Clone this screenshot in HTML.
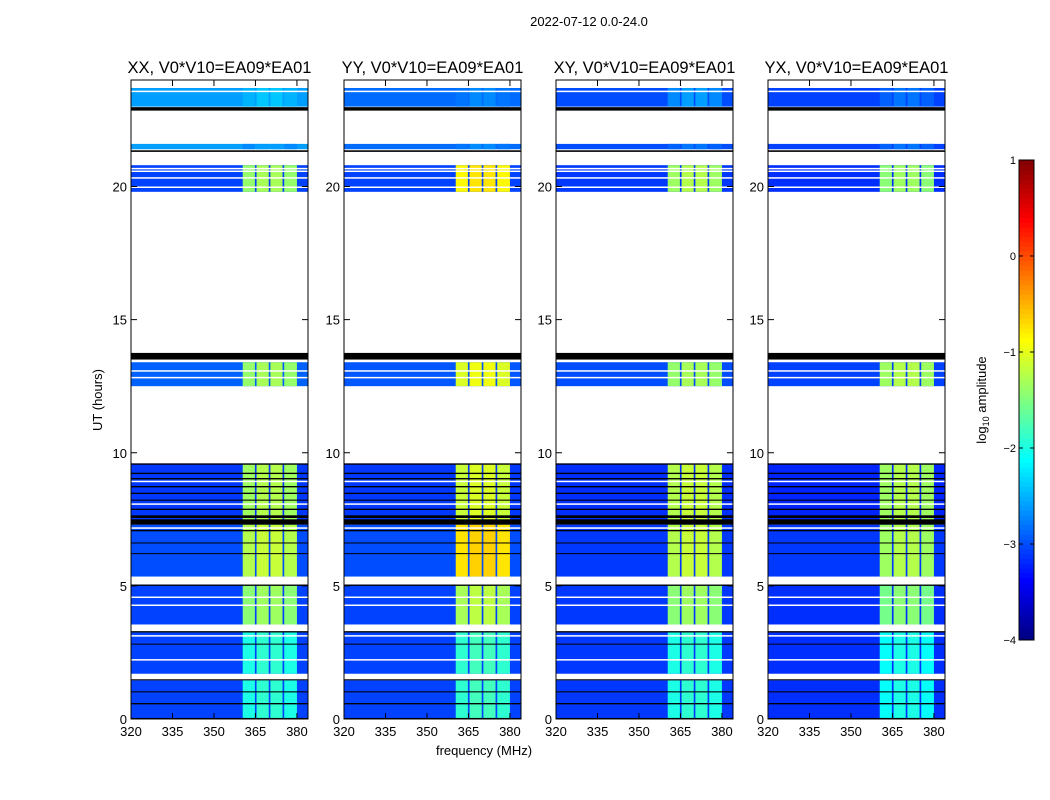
<!DOCTYPE html>
<html><head><meta charset="utf-8"><style>
body{margin:0;background:#fff}
svg{display:block;font-family:"Liberation Sans",sans-serif}
</style></head><body>
<svg id="fig" width="1050" height="800" xmlns="http://www.w3.org/2000/svg">
<text x="589" y="26" font-size="13" text-anchor="middle">2022-07-12 0.0-24.0</text>
<text x="484" y="755" font-size="13" text-anchor="middle">frequency (MHz)</text>
<text x="102" y="400" font-size="13" text-anchor="middle" transform="rotate(-90 102 400)">UT (hours)</text>
<g id="plots"></g>
<g id="cbar"></g>
</svg>
<script>
const panelTitles = ["XX, V0*V10=EA09*EA01","YY, V0*V10=EA09*EA01","XY, V0*V10=EA09*EA01","YX, V0*V10=EA09*EA01"];
const segStart = [0.0, 1.7, 3.55, 5.35, 7.3, 12.5, 19.8, 21.4, 23.0];
const segEnd   = [1.45, 3.25, 5.05, 7.3, 9.6, 13.4, 20.8, 21.6, 23.7];
const baseXX = [-3.05, -3.05, -3.05, -3.0, -3.1, -2.9, -3.05, -2.6, -2.6];
const baseYY = [-3.05, -3.05, -3.05, -3.0, -3.1, -2.95, -3.05, -2.85, -2.85];
const baseXY = [-3.1, -3.1, -3.1, -3.1, -3.15, -3.0, -3.1, -3.0, -3.0];
const baseYX = [-3.15, -3.15, -3.15, -3.1, -3.2, -3.05, -3.15, -3.05, -3.05];
const baseLevels = [baseXX, baseYY, baseXY, baseYX];
const bandXX = [-2.0, -2.0, -1.45, -1.25, -1.35, -1.4, -1.4, -2.7, -2.5];
const bandYY = [-1.9, -1.9, -1.3, -0.75, -1.15, -1.05, -0.85, -2.8, -2.8];
const bandXY = [-2.0, -2.0, -1.45, -1.25, -1.25, -1.4, -1.35, -2.9, -2.7];
const bandYX = [-2.1, -2.1, -1.55, -1.35, -1.35, -1.35, -1.45, -2.9, -2.9];
const bandLevels = [bandXX, bandYY, bandXY, bandYX];
const subBandLo = [360.4, 365.4, 370.4, 375.4];
const subBandHi = [364.8, 369.8, 374.8, 380.0];
const blackStart = [22.85, 21.3, 13.5, 9.55, 9.2, 9.0, 8.7, 8.45, 8.2, 7.85, 7.55, 7.3, 7.05, 6.2, 5.0, 3.25, 1.45, 1.0, 0.55, 0.0, 2.8, 6.6];
const blackEnd   = [22.98, 21.36, 13.75, 9.6, 9.25, 9.05, 8.75, 8.5, 8.24, 7.9, 7.65, 7.5, 7.1, 6.23, 5.05, 3.3, 1.5, 1.04, 0.6, 0.04, 2.83, 6.63];
const whiteLines = [23.6, 20.6, 20.35, 20.0, 13.1, 12.85, 8.95, 8.1, 7.2, 4.6, 4.3, 3.15, 2.25, 1.55, 20.7];
const yTicks = [0,5,10,15,20];
const xTicks = [320,335,350,365,380];
const cbTicks = [1,0,-1,-2,-3,-4];

const panelX = [131,344,556,768], PW=177, PT=80, PB=719;
const F0=320, F1=384, H0=0, H1=24;
const NS="http://www.w3.org/2000/svg";
function jet(v){ let t=(v+4)/5; t=Math.max(0,Math.min(1,t));
  const f=x=>Math.round(255*Math.max(0,Math.min(1,x)));
  return `rgb(${f(1.5-Math.abs(4*t-3))},${f(1.5-Math.abs(4*t-2))},${f(1.5-Math.abs(4*t-1))})`;}
function mk(tag,attrs,parent){const e=document.createElementNS(NS,tag);for(const k in attrs)e.setAttribute(k,attrs[k]);parent.appendChild(e);return e;}
const plots=document.getElementById('plots');
panelTitles.forEach((title,p)=>{
  const x0=panelX[p];
  const xs=f=>x0+(f-F0)/(F1-F0)*PW;
  const ys=h=>PB-(h-H0)/(H1-H0)*(PB-PT);
  const g=mk('g',{},plots);
  
  
  segStart.forEach((s,i)=>{
    const r=mk('rect',{x:x0,y:ys(segEnd[i]),width:PW,height:ys(s)-ys(segEnd[i]),fill:jet(baseLevels[p][i])},g);
    
    
    subBandLo.forEach((lo,j)=>{
      const b=mk('rect',{x:xs(lo),y:ys(segEnd[i]),width:xs(subBandHi[j])-xs(lo),height:ys(s)-ys(segEnd[i]),fill:jet(bandLevels[p][i]+(j==1||j==2?0.1:0))},g);
      
      
    });
  });
  blackStart.forEach((s,i)=>{
    const r=mk('rect',{x:x0,y:ys(blackEnd[i]),width:PW,height:Math.max(1,ys(s)-ys(blackEnd[i])),fill:'#000'},g);
    
    
  });
  whiteLines.forEach(h=>{
    const r=mk('rect',{x:x0,y:ys(h),width:PW,height:1.5,fill:'#fff'},g);
    
    
  });
  const fr=mk('rect',{x:x0,y:PT,width:PW,height:PB-PT,fill:'none',stroke:'#000','stroke-width':1},g);
  
  
  const tt=mk('text',{x:x0+PW/2,y:73,'font-size':16.5,'text-anchor':'middle'},g);
  tt.textContent=title;
  
  
  yTicks.forEach(v=>{
    const y=ys(v);
    mk('line',{x1:x0,x2:x0+6,y1:y,y2:y,stroke:'#000'},g);
    mk('line',{x1:x0+PW,x2:x0+PW-6,y1:y,y2:y,stroke:'#000'},g);
    const t=mk('text',{x:x0-4,y:y+5,'font-size':13,'text-anchor':'end'},g);
    t.textContent=v;
    
    
  });
  xTicks.forEach(v=>{
    const x=xs(v);
    mk('line',{x1:x,x2:x,y1:PB,y2:PB-6,stroke:'#000'},g);
    mk('line',{x1:x,x2:x,y1:PT,y2:PT+6,stroke:'#000'},g);
    const t=mk('text',{x:x,y:PB+17,'font-size':13,'text-anchor':'middle'},g);
    t.textContent=v;
    
    
  });
});
// colorbar
const cb=document.getElementById('cbar');
const CX=1019,CW=15,CT=160,CBB=640;
const cys=v=>CBB-(v+4)/5*(CBB-CT);
for(let i=0;i<100;i++){const v=-4+5*i/100;
  mk('rect',{x:CX,y:cys(v+0.05)-0.5,width:CW,height:(CBB-CT)/100+1,fill:jet(v+0.025)},cb);}
const cf=mk('rect',{x:CX,y:CT,width:CW,height:CBB-CT,fill:'none',stroke:'#000'},cb);


cbTicks.forEach(v=>{const y=cys(v);
  mk('line',{x1:CX,x2:CX+4,y1:y,y2:y,stroke:'#000'},cb);
  mk('line',{x1:CX+CW,x2:CX+CW-4,y1:y,y2:y,stroke:'#000'},cb);
  const t=mk('text',{x:CX-3,y:y+4,'font-size':11,'text-anchor':'end'},cb);
  t.textContent=v<0?'\u2212'+(-v):v;
  
  
});
const cl=mk('text',{x:986,y:400,'font-size':13,'text-anchor':'middle',transform:'rotate(-90 986 400)'},cb);
cl.innerHTML='log<tspan font-size="9" dy="3">10</tspan><tspan dy="-3"> amplitude</tspan>';


</script>
</body></html>
